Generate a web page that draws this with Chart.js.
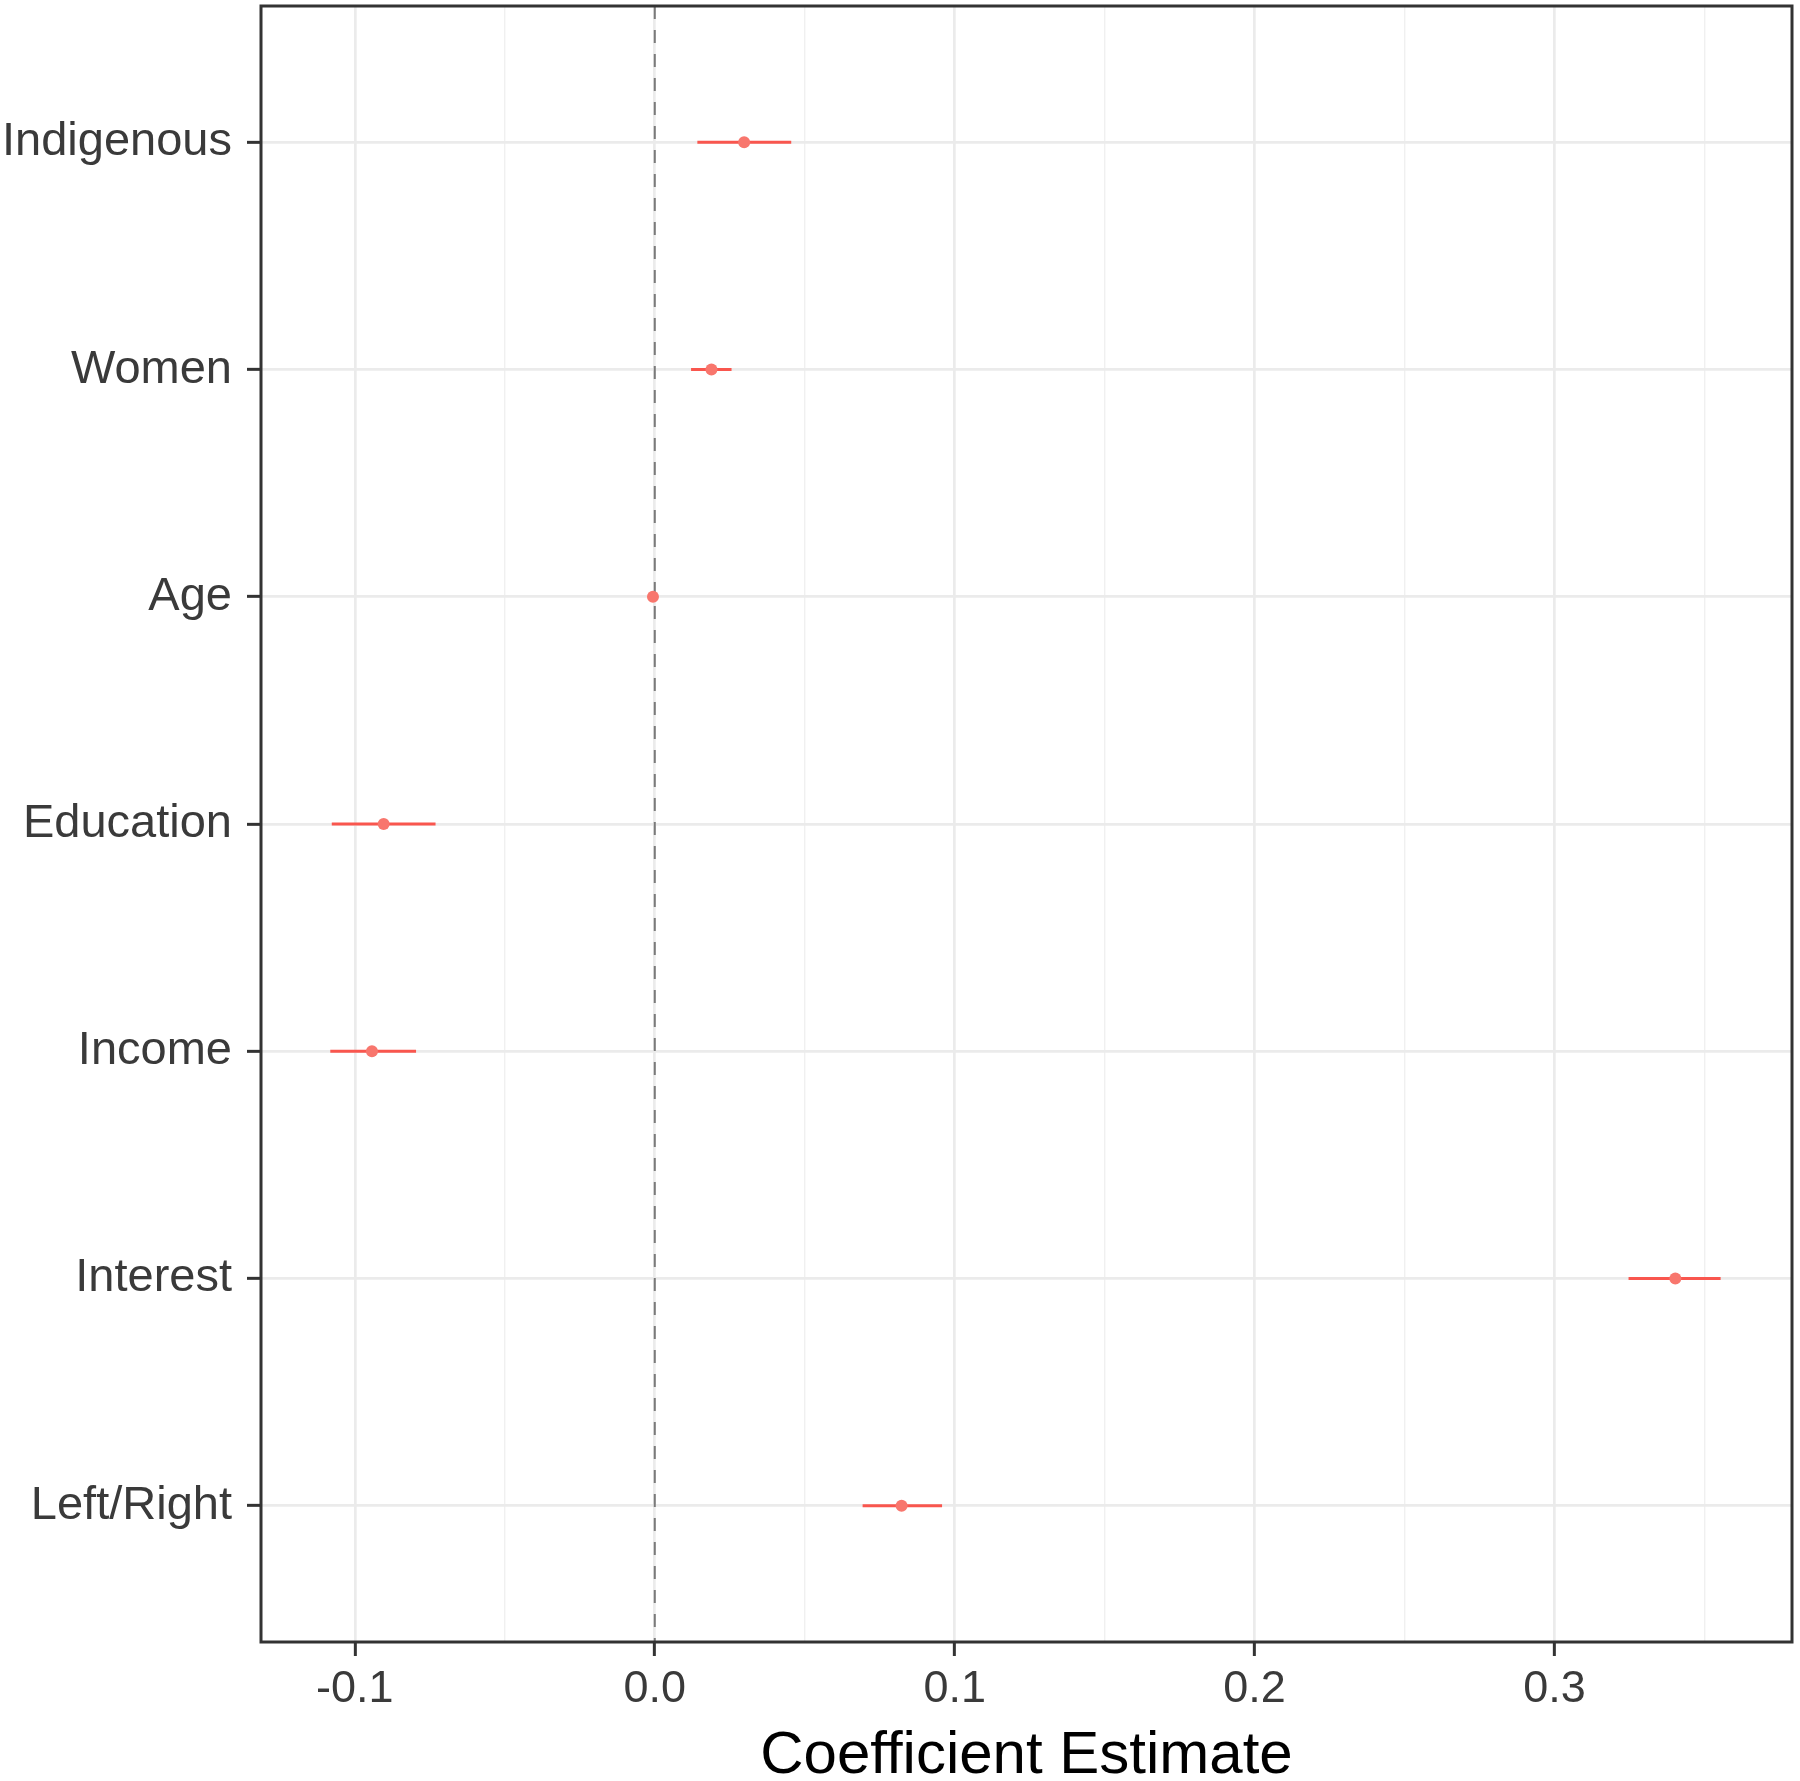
<!DOCTYPE html>
<html>
<head>
<meta charset="utf-8">
<script src="https://cdnjs.cloudflare.com/ajax/libs/Chart.js/4.4.1/chart.umd.min.js"></script>
<style>
  html, body { margin: 0; padding: 0; background: #fff; }
  #wrap { width: 1800px; height: 1781px; }
</style>
</head>
<body>
<div id="wrap"><canvas id="coef-chart" width="1800" height="1781"></canvas></div>
<script>
// Coefficient plot data
const categories = ['Indigenous', 'Women', 'Age', 'Education', 'Income', 'Interest', 'Left/Right'];
const estimates = [0.0298, 0.0189, -0.0006, -0.0904, -0.0943, 0.3403, 0.0823];
const lowerCI   = [0.0142, 0.0121, -0.0010, -0.1077, -0.1082, 0.3247, 0.0693];
const upperCI   = [0.0455, 0.0256, -0.0002, -0.0731, -0.0796, 0.3554, 0.0958];

const xMajorTicks = [-0.1, 0.0, 0.1, 0.2, 0.3];
const xMinorTicks = [-0.05, 0.05, 0.15, 0.25, 0.35];
const xMin = -0.1313, xMax = 0.3792;
const yMin = 0.4, yMax = categories.length + 0.6;

const FONT = "'Liberation Sans', Arial, sans-serif";
const isMajor = v => xMajorTicks.some(t => Math.abs(t - v) < 1e-9);

// one little line dataset per error bar
const errorBarSets = categories.map((c, i) => ({
  type: 'line',
  data: [{ x: lowerCI[i], y: i + 1 }, { x: upperCI[i], y: i + 1 }],
  borderColor: '#F9564E',
  borderWidth: 3,
  pointRadius: 0,
  order: 1,
}));

const zeroLine = {
  type: 'line',
  data: [{ x: 0, y: yMin }, { x: 0, y: yMax }],
  borderColor: '#7a7a7a',
  borderWidth: 2,
  borderDash: [13, 11],
  pointRadius: 0,
  order: 2,
};

const pointSet = {
  type: 'scatter',
  data: categories.map((c, i) => ({ x: estimates[i], y: i + 1 })),
  backgroundColor: '#F8766D',
  borderWidth: 0,
  pointRadius: 6,
  order: 0,
};

const panelBorder = {
  id: 'panelBorder',
  afterDraw(chart) {
    const { ctx, chartArea: a } = chart;
    ctx.save();
    ctx.strokeStyle = '#333333';
    ctx.lineWidth = 3;
    ctx.strokeRect(a.left, a.top, a.right - a.left, a.bottom - a.top);
    ctx.restore();
  }
};

// no extra label overhang padding, the panel fills the canvas like in ggplot
const noOverhang = scale => {
  scale.paddingTop = 0; scale.paddingBottom = 0;
  scale.paddingLeft = 0; scale.paddingRight = 0;
};

new Chart(document.getElementById('coef-chart'), {
  data: { datasets: [pointSet, ...errorBarSets, zeroLine] },
  options: {
    responsive: false,
    devicePixelRatio: 1,
    animation: false,
    layout: { padding: { top: 6, right: 8, bottom: 0, left: 0 } },
    plugins: { legend: { display: false }, tooltip: { enabled: false } },
    scales: {
      x: {
        type: 'linear',
        min: xMin,
        max: xMax,
        afterBuildTicks: scale => {
          scale.ticks = [...xMajorTicks, ...xMinorTicks].sort((a, b) => a - b).map(v => ({ value: v }));
        },
        afterFit: scale => { scale.height = 139; noOverhang(scale); },
        border: { display: false },
        grid: {
          color: ctx => isMajor(ctx.tick.value) ? '#EBEBEB' : '#F0F0F0',
          lineWidth: ctx => isMajor(ctx.tick.value) ? 2.7 : 1.4,
          tickColor: ctx => isMajor(ctx.tick.value) ? '#333333' : 'rgba(0,0,0,0)',
          tickWidth: 3,
          tickLength: 14,
        },
        ticks: {
          autoSkip: false,
          maxRotation: 0,
          padding: 7,
          color: '#3a3a3a',
          font: { family: FONT, size: 45, lineHeight: 1.2 },
          callback: v => isMajor(v) ? v.toFixed(1) : '',
        },
        title: {
          display: true,
          text: 'Coefficient Estimate',
          color: '#000000',
          font: { family: FONT, size: 60, lineHeight: 0.83 },
          padding: { top: 0, bottom: 0 },
        },
      },
      y: {
        type: 'linear',
        min: yMin,
        max: yMax,
        reverse: true,
        afterBuildTicks: scale => {
          scale.ticks = categories.map((c, i) => ({ value: i + 1 }));
        },
        afterFit: scale => { scale.width = 261; noOverhang(scale); },
        border: { display: false },
        grid: {
          color: '#EBEBEB',
          lineWidth: 2.7,
          tickColor: '#333333',
          tickWidth: 3,
          tickLength: 14,
        },
        ticks: {
          autoSkip: false,
          padding: 15,
          color: '#3a3a3a',
          font: { family: FONT, size: 47, lineHeight: 1.2 },
          callback: v => categories[Math.round(v) - 1] || '',
        },
      },
    },
  },
  plugins: [panelBorder],
});
</script>
</body>
</html>
